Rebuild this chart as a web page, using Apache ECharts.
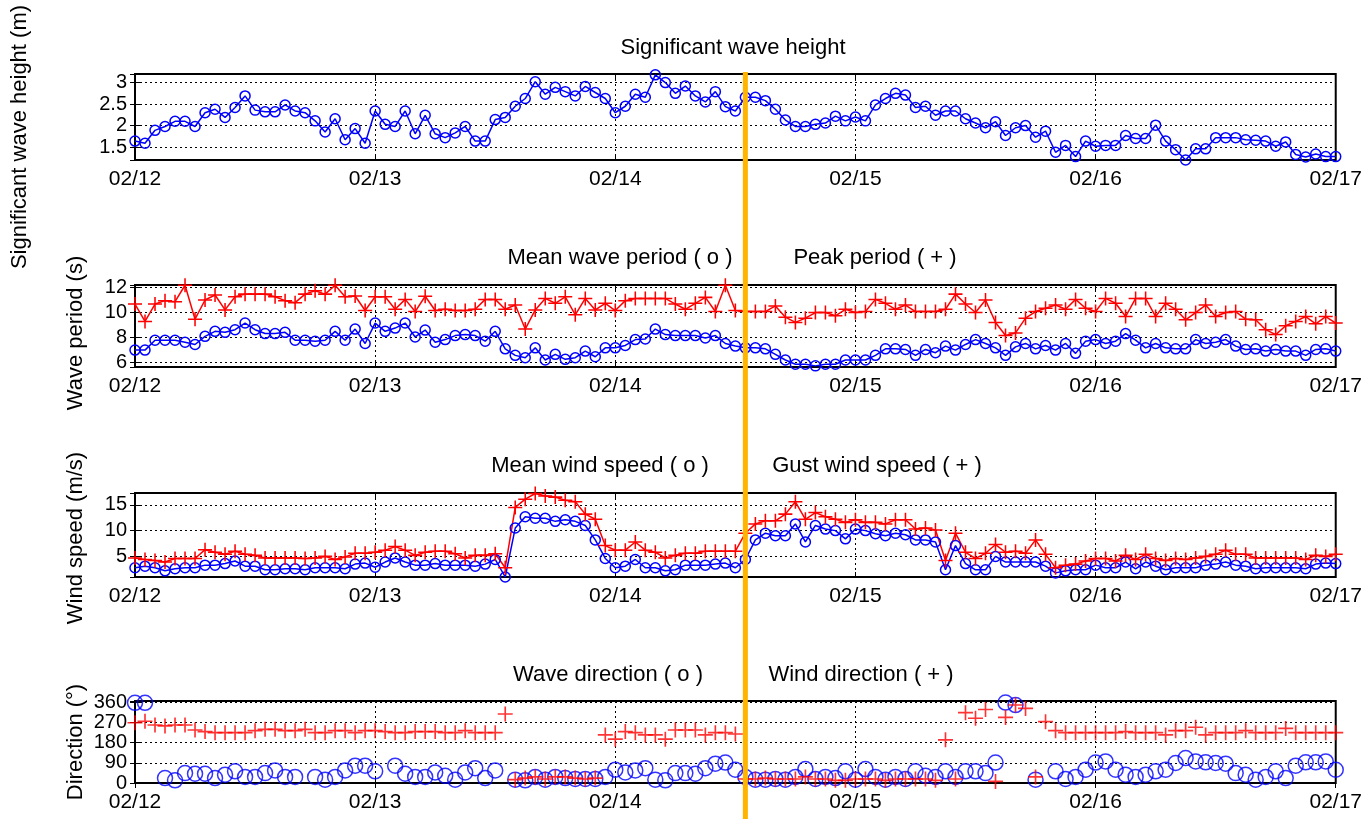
<!DOCTYPE html>
<html>
<head>
<meta charset="utf-8">
<script src="https://cdn.jsdelivr.net/npm/echarts@6/dist/echarts.min.js"></script>
<style>
html,body{margin:0;padding:0;background:#fff;}
#chart{width:1365px;height:819px;}
</style>
</head>
<body>
<div id="chart"></div>
<script>
// Hourly buoy record, 02/12 00:00 to 02/17 00:00 (121 samples, x = hours since start)
const dayLabels = ['02/12', '02/13', '02/14', '02/15', '02/16', '02/17'];

// Significant wave height (m)
const waveHeight = [
  1.64,1.59,1.89,1.98,2.10,2.10,1.98,2.30,2.38,2.19,2.42,2.69,2.36,2.32,2.32,2.48,2.34,2.30,2.11,1.85,2.16,1.67,1.93,1.59,
  2.34,2.03,1.98,2.34,1.81,2.24,1.81,1.72,1.83,1.98,1.64,1.64,2.14,2.19,2.45,2.63,3.02,2.73,2.89,2.79,2.69,2.91,2.77,2.63,
  2.30,2.45,2.73,2.66,3.18,3.00,2.75,2.92,2.69,2.55,2.79,2.44,2.34,2.66,2.66,2.58,2.38,2.13,1.98,1.98,2.03,2.06,2.22,2.11,
  2.20,2.11,2.48,2.63,2.75,2.71,2.42,2.45,2.24,2.34,2.34,2.16,2.06,1.95,2.09,1.77,1.95,2.00,1.73,1.87,1.38,1.54,1.28,1.64,
  1.52,1.54,1.54,1.77,1.70,1.70,2.01,1.64,1.44,1.20,1.46,1.46,1.72,1.72,1.72,1.67,1.66,1.64,1.52,1.62,1.33,1.27,1.34,1.28,1.28
];

// Mean wave period (s)
const meanPeriod = [
  7.00,7.00,7.79,7.79,7.79,7.63,7.45,8.10,8.50,8.42,8.63,9.16,8.63,8.32,8.32,8.42,7.79,7.79,7.71,7.79,8.50,7.79,8.68,7.53,
  9.16,8.50,8.76,9.16,8.05,8.60,7.63,7.84,8.16,8.24,8.16,7.71,8.50,7.10,6.58,6.39,7.18,6.21,6.66,6.26,6.39,6.92,6.47,7.18,
  7.18,7.37,7.84,7.89,8.68,8.24,8.16,8.16,8.16,7.97,8.16,7.53,7.32,7.18,7.18,7.10,6.66,6.21,5.87,5.87,5.74,5.87,5.87,6.21,
  6.21,6.21,6.58,7.10,7.10,7.05,6.58,7.05,6.79,7.32,7.00,7.45,7.84,7.53,7.18,6.58,7.26,7.53,7.10,7.37,7.00,7.53,6.74,7.71,
  7.84,7.53,7.71,8.32,7.79,7.18,7.53,7.18,7.10,7.10,7.84,7.53,7.63,7.84,7.32,7.05,7.10,6.92,7.05,6.92,6.92,6.58,7.05,7.10,6.92
];

// Peak period (s)
const peakPeriod = [
  10.68,9.29,10.68,10.95,10.87,12.18,9.47,11.00,11.40,10.21,11.26,11.47,11.47,11.47,11.26,10.95,10.79,11.47,11.74,11.47,12.18,11.26,11.32,10.16,
  11.26,11.26,10.26,11.05,10.08,11.30,10.16,10.26,10.16,10.16,10.26,11.05,11.05,10.26,10.60,8.68,10.21,11.13,10.74,11.26,9.82,11.13,10.21,10.74,
  10.16,10.95,11.13,11.13,11.13,11.13,10.68,10.26,10.74,11.21,10.08,12.18,10.16,10.08,10.08,10.08,10.53,9.63,9.21,9.55,10.00,10.00,9.74,10.26,
  10.00,10.08,11.05,10.74,10.26,10.60,10.08,10.08,10.08,10.26,11.47,10.68,10.00,11.00,9.21,8.16,8.37,9.55,10.08,10.34,10.60,10.26,11.05,10.34,
  10.08,11.13,10.74,9.68,11.13,11.13,9.68,10.74,10.26,9.42,10.00,10.60,9.68,10.00,10.08,9.47,9.42,8.63,8.24,8.95,9.29,9.68,9.10,9.68,9.16
];

// Mean wind speed (m/s)
const meanWind = [
  2.8,3.1,2.8,2.2,2.6,2.8,2.8,3.3,3.3,3.6,4.1,3.1,3.1,2.4,2.4,2.6,2.6,2.4,2.8,2.8,2.8,2.6,3.5,3.7,
  2.9,3.9,4.7,3.9,3.3,3.3,3.6,3.3,3.3,3.3,3.1,3.5,4.4,1.0,10.5,12.7,12.4,12.4,11.8,12.1,11.8,11.0,8.2,4.6,
  2.8,3.1,4.4,2.8,2.8,2.2,2.4,3.3,3.3,3.3,3.5,3.7,2.8,4.4,8.2,9.5,9.0,9.0,11.3,7.8,11.0,10.3,10.0,8.4,
  10.3,10.0,9.4,9.0,9.5,9.2,8.2,8.2,7.8,2.4,7.1,3.6,2.4,2.4,5.0,3.9,3.9,3.9,3.9,3.1,1.8,2.2,2.4,2.4,
  3.3,2.8,2.8,3.9,2.6,3.9,3.1,2.4,2.8,2.8,2.8,3.3,3.5,3.9,3.3,3.1,2.6,2.8,2.8,2.8,2.8,2.6,3.5,3.7,3.6
];

// Gust wind speed (m/s)
const gustWind = [
  4.7,4.4,4.2,3.9,4.6,4.6,4.6,6.3,5.8,5.4,6.0,5.4,5.2,4.7,4.7,4.7,4.7,4.6,4.7,5.0,4.4,4.9,5.6,5.6,
  5.8,6.2,6.9,6.2,5.2,5.8,6.0,6.0,5.5,4.7,5.2,5.2,5.5,2.8,14.5,16.1,17.2,16.7,16.5,15.9,15.6,13.2,12.2,7.1,
  6.2,6.2,7.8,6.2,5.8,4.7,5.2,5.6,5.6,6.0,6.0,6.0,6.0,9.5,11.3,11.9,11.9,13.2,15.6,12.2,13.5,12.7,12.2,11.6,
  12.1,11.6,11.6,11.3,12.1,12.1,10.3,10.5,10.1,4.2,9.5,5.8,4.6,5.6,7.3,5.8,6.0,5.6,8.2,5.4,2.8,3.3,3.5,4.1,
  4.6,4.6,4.1,5.2,4.4,5.4,4.6,4.2,4.6,4.4,4.7,5.0,5.4,6.2,5.4,5.4,4.7,4.7,4.7,4.7,4.7,4.4,5.2,5.0,5.4
];

// Wave direction (deg), null = no reading
const waveDir = [
  357,357,null,22,12,44,41,41,22,37,52,27,27,44,56,27,27,null,27,15,27,56,77,77,
  52,null,77,41,27,27,47,32,15,47,66,22,56,null,15,12,27,15,27,22,18,18,18,27,
  59,47,56,66,15,12,44,44,41,66,86,91,59,27,15,15,18,15,27,62,18,27,22,52,
  15,62,27,15,27,18,52,32,27,52,27,52,52,44,91,358,347,null,15,null,52,18,27,59,
  91,96,59,37,27,37,52,59,89,111,96,92,89,86,44,37,15,27,52,22,77,92,92,96,59
];

// Wind direction (deg), null = no reading
const windDir = [
  268,275,258,254,258,258,236,229,224,224,224,224,233,239,239,233,233,239,224,224,233,233,224,233,
  233,229,224,224,229,229,229,224,224,233,224,224,224,307,15,22,27,18,27,27,22,18,22,214,
  195,229,224,214,214,195,236,236,236,214,224,224,218,18,18,22,18,18,18,27,18,18,12,12,
  18,18,18,12,18,18,18,18,12,192,18,313,288,327,7,292,347,332,27,273,233,224,224,224,
  224,224,224,229,224,224,224,214,233,233,248,214,224,224,224,233,224,224,224,243,224,224,224,224,224
];

// Time of the highlighted event (hours since start)
const eventHour = 61;

const FONT = '"Liberation Sans", Arial, Helvetica, sans-serif';
const BLUE = '#0000ff';
const RED = '#ff0000';
const ORANGE = '#ffb400';
const PLUS = 'path://M-0.11,-1H0.11V-0.11H1V0.11H0.11V1H-0.11V0.11H-1V-0.11H-0.11Z';

const panels = [
  { top: 74,  height: 86, min: 1.2,  max: 3.2,  splitNumber: 4, showMin: false },
  { top: 285, height: 82, min: 5.65, max: 12.2, splitNumber: 3, showMin: false },
  { top: 493, height: 84, min: 1.0,  max: 17.3, splitNumber: 3, showMin: false },
  { top: 701, height: 82, min: 0,    max: 365,  interval: 90,  showMin: true }
];

const pairs = arr => arr.map((v, i) => [i, v]);
const present = arr => arr.map((v, i) => [i, v]).filter(p => p[1] !== null);

const dotted = { show: true, lineStyle: { color: '#000', width: 1, type: [2, 3] } };
const tickIn = { show: true, inside: true, length: 5, lineStyle: { color: '#000', width: 1 } };
const xLabelStyle = { color: '#000', fontFamily: FONT, fontSize: 21 };
const yLabelStyle = { color: '#000', fontFamily: FONT, fontSize: 20 };

const grid = [], xAxis = [], yAxis = [];
panels.forEach((p, k) => {
  grid.push({ left: 135, right: 28, top: p.top, height: p.height, show: true,
    borderColor: '#000', borderWidth: 2, backgroundColor: 'transparent' });
  xAxis.push({ gridIndex: k, type: 'value', min: 0, max: 120, interval: 24,
    axisLine: { show: false }, axisTick: tickIn, splitLine: dotted,
    axisLabel: Object.assign({ margin: 9, hideOverlap: false,
      formatter: v => dayLabels[Math.round(v / 24)] }, xLabelStyle) });
  xAxis.push({ gridIndex: k, type: 'value', position: 'top', min: 0, max: 120, interval: 24,
    axisLine: { show: false }, axisTick: tickIn, splitLine: { show: false }, axisLabel: { show: false } });
  const yBase = { gridIndex: k, type: 'value', min: p.min, max: p.max };
  if (p.interval) yBase.interval = p.interval; else yBase.splitNumber = p.splitNumber;
  yAxis.push(Object.assign({}, yBase, {
    axisLine: { show: false }, axisTick: tickIn, splitLine: dotted,
    axisLabel: Object.assign({ margin: 8, hideOverlap: false,
      showMinLabel: p.showMin, showMaxLabel: false }, yLabelStyle) }));
  yAxis.push(Object.assign({}, yBase, { position: 'right',
    axisLine: { show: false }, axisTick: tickIn, splitLine: { show: false }, axisLabel: { show: false } }));
});

function lineSeries(k, data, color, symbol, size) {
  return {
    type: 'line', xAxisIndex: 2 * k, yAxisIndex: 2 * k, data: pairs(data),
    symbol: symbol, symbolSize: size, showAllSymbol: true, clip: false,
    lineStyle: { color: color, width: 1.5 },
    itemStyle: symbol === 'circle'
      ? { color: 'none', borderColor: color, borderWidth: 1.5 }
      : { color: color, borderWidth: 0 },
    emphasis: { disabled: true }, animation: false
  };
}

const series = [
  lineSeries(0, waveHeight, BLUE, 'circle', 10),
  lineSeries(1, meanPeriod, BLUE, 'circle', 10),
  lineSeries(1, peakPeriod, RED, PLUS, 14),
  lineSeries(2, meanWind, BLUE, 'circle', 10),
  lineSeries(2, gustWind, RED, PLUS, 14),
  { type: 'scatter', xAxisIndex: 6, yAxisIndex: 6, data: present(waveDir), clip: false,
    symbol: 'circle', symbolSize: 15,
    itemStyle: { color: 'none', borderColor: BLUE, borderWidth: 1.5 }, emphasis: { disabled: true }, animation: false },
  { type: 'scatter', xAxisIndex: 6, yAxisIndex: 6, data: present(windDir), clip: false,
    symbol: PLUS, symbolSize: 15,
    itemStyle: { color: RED }, emphasis: { disabled: true }, animation: false }
];

const textStyle = { fill: '#000', font: '22px ' + FONT, textAlign: 'center', textVerticalAlign: 'middle' };
const text = (str, x, y, rot) => ({ type: 'text', x: x, y: y, rotation: rot || 0, z: 10,
  style: Object.assign({ text: str }, textStyle) });

const graphic = [
  text('Significant wave height', 733, 48),
  text('Mean wave period ( o )', 620, 258),
  text('Peak period ( + )', 875, 258),
  text('Mean wind speed ( o )', 600, 466),
  text('Gust wind speed ( + )', 877, 466),
  text('Wave direction ( o )', 608, 675),
  text('Wind direction ( + )', 861, 675),
  text('Significant wave height (m)', 20, 137, Math.PI / 2),
  text('Wave period (s)', 76, 333, Math.PI / 2),
  text('Wind speed (m/s)', 76, 538, Math.PI / 2),
  text('Direction (\u00b0)', 76, 742, Math.PI / 2)
];

const chart = echarts.init(document.getElementById('chart'), null, { renderer: 'canvas' });
chart.setOption({
  backgroundColor: '#fff', animation: false,
  grid: grid, xAxis: xAxis, yAxis: yAxis, series: series, graphic: graphic
});

// Vertical event marker through all panels, placed with the first panel's scales
const ex = chart.convertToPixel({ xAxisIndex: 0 }, eventHour);
const ey = chart.convertToPixel({ yAxisIndex: 0 }, panels[0].max);
graphic.push({ type: 'rect', z: 20,
  shape: { x: ex - 2.5, y: ey - 2, width: 5, height: chart.getHeight() - ey + 2 },
  style: { fill: ORANGE } });
chart.setOption({ graphic: graphic });
</script>
</body>
</html>
